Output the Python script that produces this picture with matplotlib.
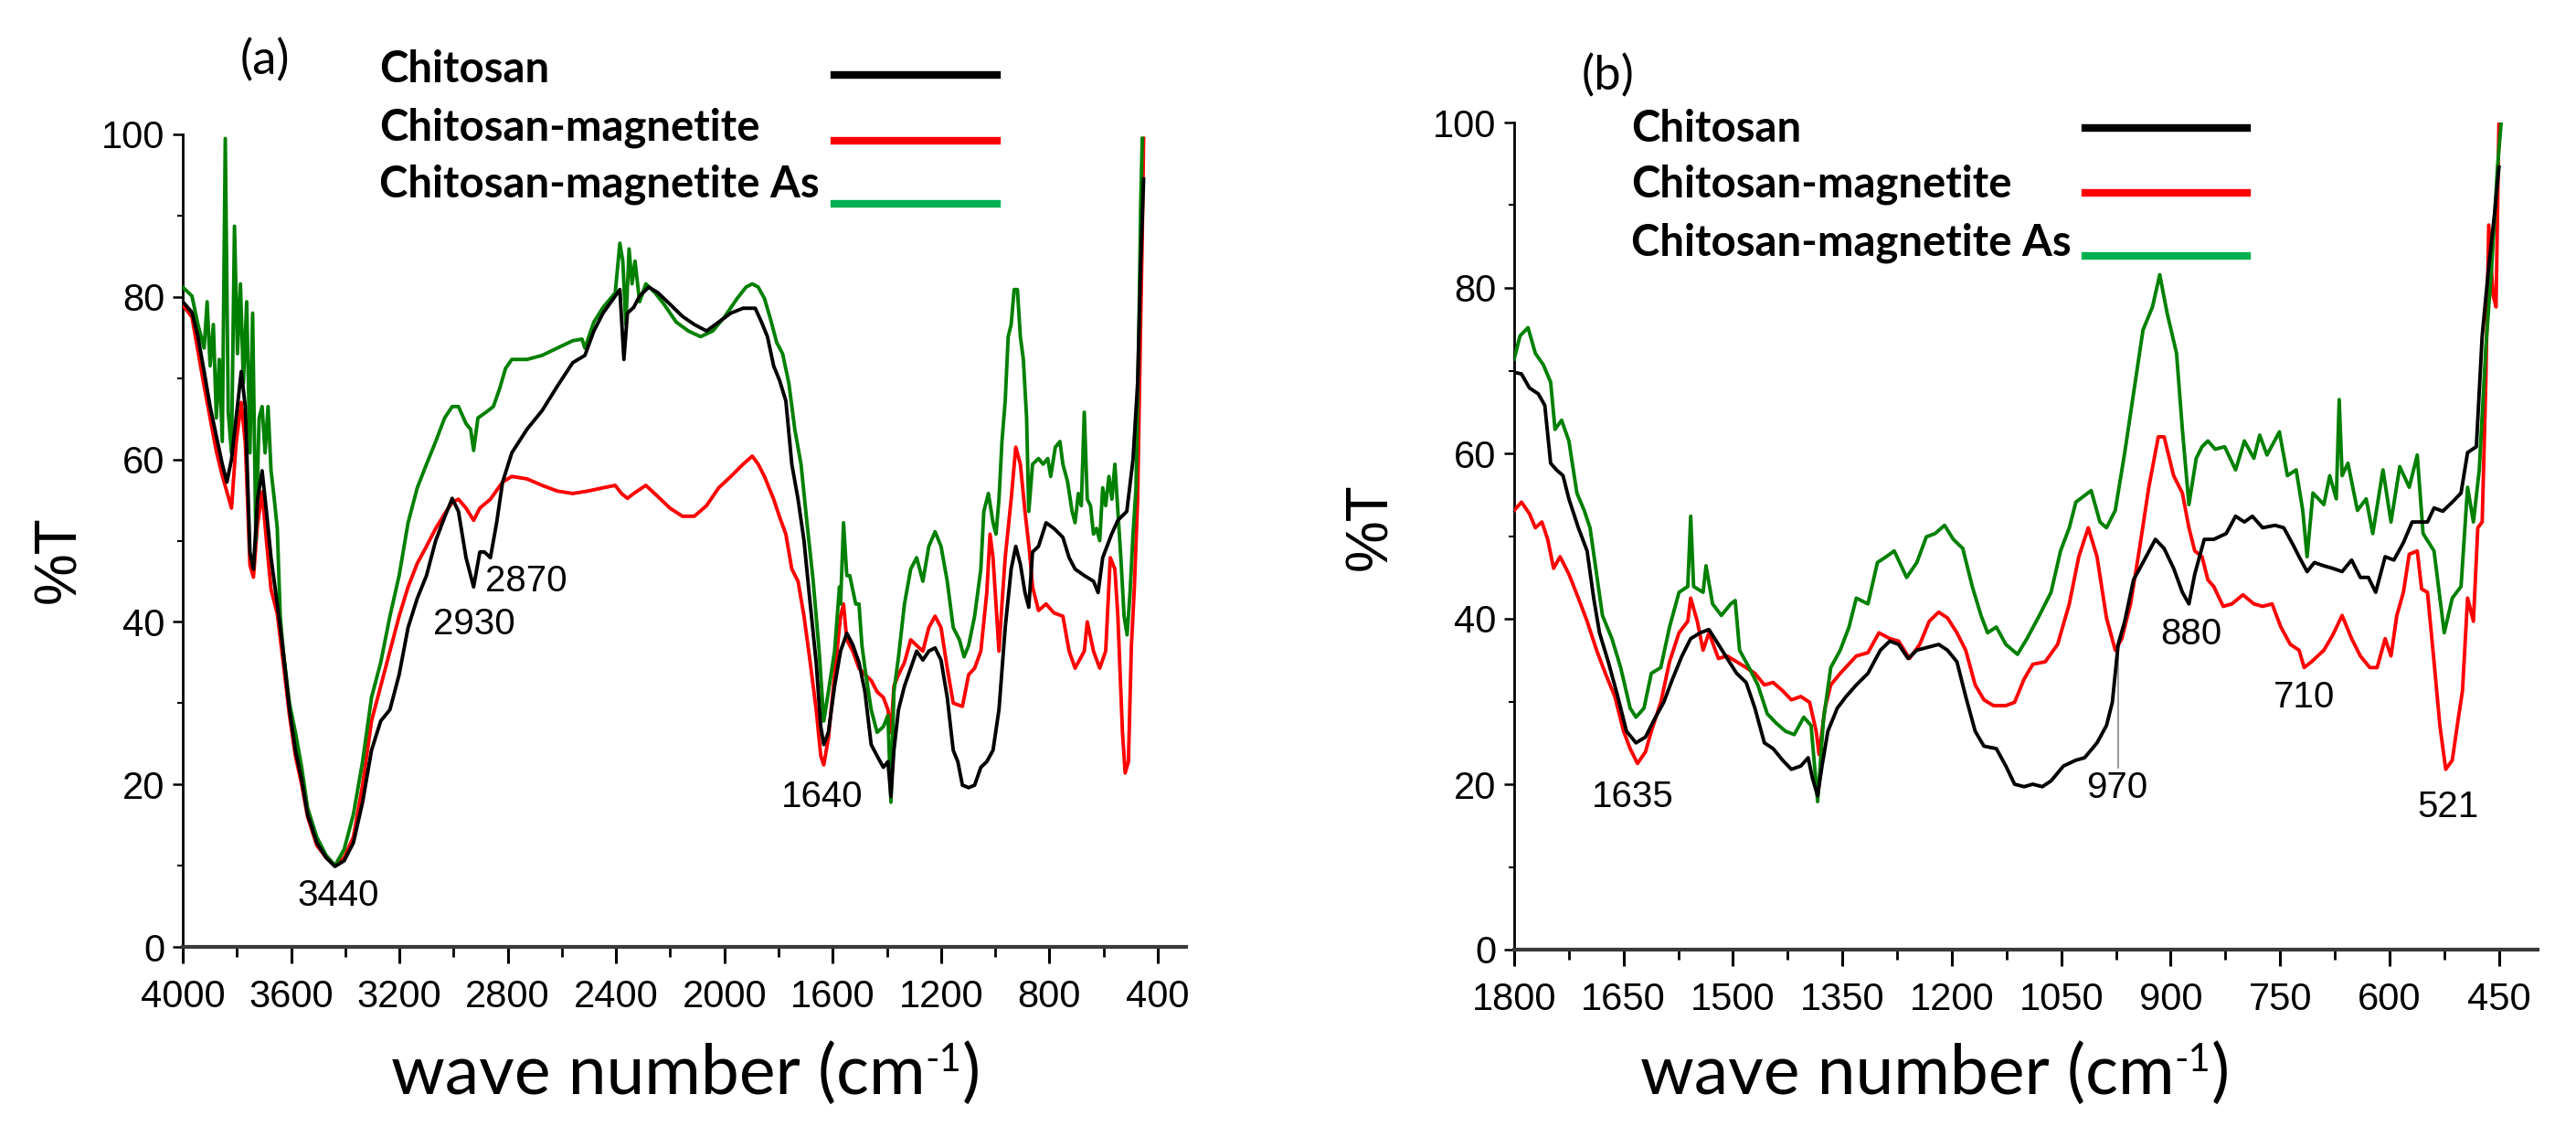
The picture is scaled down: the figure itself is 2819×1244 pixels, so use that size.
import numpy as np
import matplotlib
matplotlib.use("Agg")
import matplotlib.pyplot as plt
from matplotlib.ticker import MultipleLocator

plt.rcParams['font.family'] = ['Liberation Sans', 'DejaVu Sans']

W, H = 2819, 1244

# ---- panel (a) data ----
a_black_wn = [4000, 3966, 3944, 3921, 3899, 3876, 3854, 3837, 3820, 3803, 3784, 3769, 3752, 3739,
              3724, 3707, 3691, 3674, 3651, 3629, 3606, 3584, 3561, 3539, 3505, 3471, 3438, 3404,
              3370, 3336, 3303, 3269, 3235, 3201, 3168, 3134, 3100, 3066, 3033, 3005, 2982, 2954,
              2926, 2903, 2886, 2864, 2841, 2819, 2785, 2729, 2673, 2617, 2560, 2515, 2482, 2448,
              2403, 2386, 2371, 2358, 2335, 2313, 2279, 2245, 2201, 2155, 2111, 2066, 2021, 1976,
              1931, 1886, 1863, 1841, 1818, 1796, 1773, 1751, 1728, 1706, 1683, 1661, 1644, 1633,
              1616, 1593, 1571, 1548, 1526, 1503, 1481, 1458, 1436, 1413, 1396, 1385, 1374, 1357,
              1335, 1312, 1290, 1267, 1245, 1222, 1200, 1177, 1155, 1138, 1121, 1098, 1076, 1053,
              1031, 1008, 986, 963, 941, 924, 907, 890, 876, 862, 840, 812, 783, 750, 727, 705,
              671, 637, 620, 603, 570, 547, 514, 491, 474, 463, 452]
a_black_t = [79.4, 78.1, 75.1, 70.8, 66.5, 62.9, 59.4, 57.2, 60.0, 65.1, 70.8, 66.5, 48.6, 46.5,
             55.0, 58.6, 53.6, 47.9, 42.2, 36.4, 29.2, 24.2, 20.6, 16.3, 12.8, 11.0, 9.9, 10.6,
             12.8, 17.8, 24.2, 27.8, 29.2, 33.5, 39.3, 42.9, 45.7, 50.0, 52.9, 55.2, 53.6, 47.9,
             44.3, 48.6, 48.6, 47.9, 52.2, 57.2, 60.8, 63.7, 66.0, 69.0, 71.9, 72.8, 75.8, 78.0,
             80.1, 80.9, 72.3, 78.0, 78.7, 80.1, 81.2, 80.5, 79.1, 77.6, 76.6, 75.8, 76.9, 78.0,
             78.6, 78.6, 76.9, 75.1, 71.5, 69.7, 67.2, 59.4, 55.1, 50.0, 42.2, 35.0, 27.1, 24.9,
             26.4, 32.1, 36.4, 38.6, 37.2, 35.0, 31.4, 24.9, 23.5, 22.1, 22.8, 18.5, 24.2, 29.2,
             32.1, 34.3, 36.4, 35.3, 36.4, 36.8, 35.3, 30.7, 24.2, 22.8, 19.9, 19.6, 19.9, 22.1,
             22.8, 24.2, 29.2, 39.3, 46.5, 49.3, 47.1, 43.6, 41.8, 48.6, 49.3, 52.2, 51.5, 50.4,
             47.9, 46.5, 45.7, 45.0, 43.6, 47.9, 50.8, 52.5, 53.6, 60.0, 69.4, 83.7, 94.5]

a_red_wn = [4000, 3966, 3921, 3876, 3854, 3837, 3820, 3803, 3784, 3769, 3752, 3739, 3724, 3707,
            3691, 3674, 3651, 3629, 3606, 3584, 3561, 3539, 3505, 3471, 3438, 3404, 3370, 3336,
            3303, 3269, 3235, 3201, 3168, 3134, 3100, 3066, 3033, 3005, 2982, 2954, 2926, 2903,
            2864, 2819, 2785, 2729, 2673, 2617, 2560, 2504, 2448, 2403, 2380, 2358, 2335, 2290,
            2245, 2201, 2155, 2111, 2066, 2021, 1976, 1931, 1897, 1875, 1852, 1818, 1796, 1773,
            1751, 1728, 1706, 1683, 1661, 1644, 1633, 1616, 1593, 1571, 1560, 1548, 1526, 1503,
            1481, 1458, 1436, 1413, 1396, 1385, 1374, 1357, 1335, 1312, 1290, 1267, 1245, 1222,
            1200, 1177, 1155, 1121, 1098, 1076, 1053, 1031, 1019, 1008, 986, 975, 963, 941, 924,
            907, 890, 873, 862, 840, 812, 783, 750, 727, 705, 671, 660, 637, 614, 592, 575, 558,
            547, 530, 520, 508, 497, 486, 474, 463, 457, 452]
a_red_t = [79.0, 77.5, 69.0, 61.0, 58.0, 56.0, 54.0, 62.0, 67.0, 62.0, 47.0, 45.5, 52.0, 56.0,
           50.0, 44.0, 41.0, 35.0, 28.5, 23.5, 20.0, 16.0, 12.5, 11.0, 10.0, 11.0, 13.5, 19.9,
           27.8, 32.1, 36.4, 40.7, 44.3, 47.2, 49.3, 51.5, 53.3, 54.7, 55.1, 54.0, 52.5, 54.0,
           55.1, 57.2, 57.9, 57.6, 56.8, 56.1, 55.8, 56.1, 56.5, 56.8, 55.8, 55.2, 55.8, 56.8,
           55.4, 54.0, 53.0, 53.0, 54.3, 56.5, 57.9, 59.4, 60.4, 59.4, 57.9, 55.1, 52.9, 50.8,
           46.5, 45.0, 40.7, 35.0, 29.2, 23.5, 22.4, 25.7, 33.5, 40.7, 42.2, 37.8, 36.4, 34.3,
           33.5, 32.8, 31.4, 30.7, 29.2, 26.4, 32.1, 33.5, 35.0, 37.8, 37.1, 36.4, 39.3, 40.7,
           39.3, 34.3, 30.0, 29.6, 33.5, 34.3, 36.4, 43.6, 50.8, 47.9, 36.4, 42.2, 47.9, 55.1, 61.5,
           59.4, 53.6, 48.6, 44.3, 41.4, 42.2, 41.1, 40.7, 36.4, 34.3, 36.4, 40.0, 36.4, 34.3, 36.4,
           47.9, 46.5, 40.7, 26.4, 21.4, 22.8, 37.1, 44.3, 55.1, 76.6, 87.3, 99.5]

a_green_wn = [4000, 3966, 3944, 3921, 3910, 3899, 3887, 3876, 3865, 3854, 3843, 3832, 3820, 3809,
              3798, 3787, 3776, 3764, 3752, 3742, 3730, 3718, 3707, 3696, 3685, 3674, 3662, 3651,
              3640, 3629, 3606, 3584, 3561, 3539, 3505, 3471, 3438, 3404, 3370, 3336, 3303, 3269,
              3235, 3201, 3168, 3134, 3100, 3066, 3033, 3005, 2982, 2954, 2937, 2926, 2910, 2880,
              2853, 2830, 2808, 2785, 2729, 2673, 2617, 2560, 2526, 2515, 2482, 2448, 2403, 2386,
              2375, 2364, 2352, 2341, 2330, 2313, 2290, 2256, 2223, 2178, 2133, 2088, 2043, 1998,
              1953, 1920, 1897, 1875, 1852, 1830, 1807, 1785, 1762, 1740, 1717, 1695, 1672, 1650,
              1633, 1616, 1593, 1575, 1571, 1560, 1548, 1537, 1515, 1503, 1492, 1481, 1458, 1436,
              1413, 1396, 1385, 1374, 1357, 1335, 1312, 1290, 1267, 1245, 1222, 1200, 1177, 1155,
              1132, 1115, 1098, 1076, 1053, 1042, 1025, 1008, 997, 986, 975, 963, 952, 941, 930,
              918, 907, 896, 884, 876, 862, 840, 823, 806, 795, 778, 761, 750, 733, 716, 705, 693,
              682, 671, 660, 648, 637, 626, 614, 603, 592, 580, 569, 558, 547, 536, 524, 513, 502,
              491, 480, 469, 463, 457]
a_green_t = [81.2, 80.1, 76.6, 73.7, 79.4, 71.5, 76.6, 65.1, 72.3, 62.2, 99.5, 65.8, 60.8, 88.7,
             73.0, 81.6, 69.4, 79.4, 60.8, 78.0, 50.0, 65.1, 66.5, 60.8, 66.5, 58.6, 55.1, 51.5,
             40.7, 36.4, 30.0, 26.4, 22.1, 17.1, 13.5, 11.3, 10.0, 12.0, 16.3, 22.8, 30.7, 35.0,
             40.7, 45.7, 52.2, 56.5, 59.4, 62.2, 65.1, 66.5, 66.5, 64.4, 63.7, 61.1, 65.1, 65.8,
             66.5, 68.7, 71.2, 72.3, 72.3, 72.8, 73.7, 74.6, 74.8, 73.7, 76.9, 78.7, 80.5, 86.6,
             84.4, 76.6, 85.9, 81.6, 84.4, 79.4, 81.6, 80.5, 79.1, 76.9, 75.8, 75.1, 75.8, 77.6,
             79.8, 81.2, 81.6, 81.2, 79.8, 77.3, 74.4, 73.0, 69.4, 63.7, 59.4, 52.2, 45.0, 36.4,
             27.8, 31.4, 36.4, 44.3, 42.2, 52.2, 45.7, 45.7, 42.2, 42.2, 37.1, 34.3, 29.2, 26.4,
             27.1, 28.5, 17.8, 31.4, 35.7, 42.2, 46.5, 47.9, 45.0, 49.3, 51.1, 49.3, 45.0, 39.3,
             37.8, 35.7, 37.1, 40.7, 46.5, 53.6, 55.8, 52.2, 50.8, 55.1, 62.2, 67.2, 75.1, 76.6,
             80.9, 80.9, 75.1, 72.3, 65.1, 53.6, 59.4, 60.1, 59.4, 60.1, 57.9, 61.5, 62.2, 59.4,
             57.3, 53.6, 52.2, 55.8, 54.3, 65.8, 55.1, 54.3, 50.8, 51.5, 50.0, 56.5, 54.3, 57.9,
             55.1, 59.4, 53.6, 47.9, 40.7, 38.4, 43.6, 50.8, 56.5, 76.6, 90.9, 99.5]

# ---- panel (b) data ----
b_black_wn = [1800, 1790, 1779, 1767, 1758, 1750, 1742, 1733, 1725, 1712, 1700, 1691, 1683, 1671,
              1658, 1646, 1633, 1620, 1608, 1595, 1583, 1570, 1558, 1545, 1533, 1520, 1508, 1495,
              1482, 1470, 1457, 1445, 1432, 1420, 1407, 1397, 1391, 1384, 1378, 1370, 1357, 1345,
              1331, 1315, 1298, 1285, 1273, 1260, 1248, 1231, 1218, 1206, 1193, 1181, 1168, 1156,
              1139, 1126, 1114, 1101, 1089, 1076, 1064, 1047, 1030, 1018, 1001, 988, 980, 972, 963,
              951, 938, 921, 909, 896, 884, 875, 867, 854, 841, 824, 811, 799, 788, 774, 757, 745,
              732, 724, 713, 703, 690, 678, 665, 652, 640, 629, 619, 606, 594, 581, 569, 560, 548,
              539, 527, 514, 502, 493, 481, 473, 464, 456, 450]
b_black_t = [69.8, 69.6, 67.9, 67.2, 65.8, 58.8, 58.0, 57.3, 54.5, 51.0, 48.2, 42.5, 38.3, 34.8,
             30.6, 26.4, 25.0, 25.7, 27.8, 29.9, 32.7, 35.5, 37.6, 38.3, 38.7, 36.9, 35.2, 33.4,
             32.3, 29.2, 25.0, 24.3, 22.9, 21.8, 22.2, 23.2, 20.7, 18.6, 22.2, 26.4, 29.2, 30.6,
             32.0, 33.4, 36.2, 37.3, 36.9, 35.2, 36.2, 36.6, 36.9, 36.2, 34.8, 30.6, 26.4, 24.6,
             24.3, 22.2, 20.0, 19.7, 20.0, 19.7, 20.4, 22.2, 22.9, 23.2, 25.0, 27.1, 29.9, 36.9,
             39.7, 44.7, 46.8, 49.6, 48.5, 46.1, 43.2, 41.8, 45.4, 49.6, 49.6, 50.3, 52.4, 51.7,
             52.4, 51.0, 51.3, 51.0, 48.9, 47.5, 45.7, 46.8, 46.4, 46.1, 45.7, 47.1, 45.0, 45.0,
             43.2, 47.5, 47.1, 49.2, 51.7, 51.7, 51.7, 53.4, 53.0, 54.1, 55.2, 60.1, 60.8, 74.2,
             82.6, 89.0, 94.6]

b_red_wn = [1800, 1790, 1779, 1771, 1762, 1754, 1746, 1737, 1725, 1712, 1700, 1687, 1675, 1662,
            1650, 1641, 1631, 1620, 1612, 1599, 1587, 1574, 1562, 1558, 1549, 1541, 1533, 1520,
            1508, 1495, 1482, 1470, 1457, 1445, 1432, 1420, 1407, 1395, 1386, 1382, 1374, 1366,
            1353, 1331, 1315, 1300, 1285, 1273, 1258, 1244, 1231, 1218, 1206, 1193, 1181, 1168,
            1156, 1143, 1126, 1114, 1101, 1089, 1072, 1055, 1039, 1026, 1013, 1001, 988, 976, 967,
            955, 942, 930, 917, 909, 896, 884, 875, 867, 857, 849, 841, 828, 816, 801, 786, 774,
            761, 749, 736, 724, 717, 707, 690, 678, 665, 652, 640, 627, 617, 606, 598, 590, 581,
            573, 562, 556, 548, 539, 531, 523, 514, 506, 500, 493, 485, 479, 473, 468, 464, 458,
            454, 450]
b_red_t = [53.1, 54.1, 52.7, 51.0, 51.7, 49.6, 46.1, 47.5, 45.4, 42.5, 39.7, 36.2, 33.4, 30.6,
           26.4, 24.3, 22.5, 23.9, 26.4, 29.9, 34.8, 38.3, 39.7, 42.5, 39.7, 36.2, 38.3, 35.2,
           35.5, 34.8, 34.1, 33.4, 32.0, 32.3, 31.3, 30.2, 30.6, 29.9, 26.4, 23.6, 29.2, 32.0,
           33.4, 35.5, 35.9, 38.3, 37.6, 37.3, 35.2, 36.9, 39.7, 40.8, 40.1, 38.3, 36.2, 32.0,
           30.2, 29.5, 29.5, 29.9, 32.7, 34.5, 34.8, 36.9, 41.8, 47.5, 51.0, 47.5, 40.1, 36.2,
           37.6, 41.8, 48.9, 55.9, 62.0, 62.0, 57.3, 55.2, 51.0, 48.2, 47.5, 44.7, 43.9, 41.5,
           41.8, 42.9, 41.8, 41.5, 41.8, 39.0, 36.9, 36.2, 34.1, 34.8, 36.2, 38.0, 40.4, 37.6,
           35.5, 34.1, 34.1, 37.6, 35.5, 40.4, 43.2, 47.8, 48.2, 43.6, 43.2, 34.8, 27.1, 21.8,
           22.9, 27.8, 31.3, 42.5, 39.7, 51.0, 51.7, 68.6, 87.6, 79.1, 77.7, 100.0]

b_green_wn = [1800, 1792, 1781, 1771, 1760, 1750, 1744, 1735, 1725, 1714, 1704, 1696, 1687, 1679,
              1666, 1654, 1641, 1633, 1622, 1612, 1599, 1587, 1574, 1562, 1558, 1554, 1541, 1537,
              1528, 1516, 1503, 1497, 1491, 1478, 1466, 1453, 1441, 1428, 1416, 1403, 1393, 1384,
              1376, 1366, 1353, 1341, 1331, 1315, 1302, 1290, 1279, 1262, 1248, 1235, 1223, 1210,
              1198, 1185, 1172, 1160, 1151, 1139, 1126, 1110, 1097, 1080, 1064, 1051, 1039, 1030,
              1009, 997, 988, 976, 963, 951, 938, 925, 915, 905, 892, 884, 875, 865, 857, 849, 839,
              826, 811, 799, 786, 778, 768, 751, 740, 728, 719, 713, 705, 690, 682, 673, 669, 665,
              657, 644, 632, 623, 609, 598, 586, 573, 562, 554, 539, 525, 514, 502, 493, 485, 477,
              468, 460, 452, 447]
b_green_t = [71.4, 74.2, 75.2, 72.1, 70.7, 68.6, 62.9, 64.0, 61.5, 55.2, 53.1, 51.0, 45.4, 40.4,
             37.6, 34.1, 29.2, 28.1, 29.2, 33.4, 34.1, 39.0, 43.2, 43.9, 52.4, 43.9, 43.2, 46.4,
             41.8, 40.4, 41.8, 42.2, 36.2, 34.1, 32.0, 28.5, 27.4, 26.4, 26.0, 28.1, 27.1, 17.9,
             27.8, 34.1, 36.2, 39.0, 42.5, 41.8, 46.8, 47.5, 48.2, 45.0, 46.8, 49.9, 50.3, 51.3,
             49.6, 48.5, 43.9, 40.4, 38.3, 39.0, 36.9, 35.7, 37.6, 40.4, 43.2, 48.2, 51.0, 54.1,
             55.5, 51.7, 51.0, 53.1, 60.1, 67.2, 74.9, 77.7, 81.6, 77.0, 72.1, 62.9, 53.8, 59.4,
             60.8, 61.5, 60.5, 60.8, 58.0, 61.5, 59.4, 62.2, 59.8, 62.6, 57.3, 58.0, 53.1, 47.5,
             55.2, 53.8, 57.3, 54.5, 66.5, 57.3, 58.8, 53.1, 54.5, 50.3, 58.0, 51.7, 58.4, 55.9,
             59.8, 50.3, 48.2, 38.3, 42.5, 43.9, 55.9, 51.7, 58.0, 72.8, 82.6, 94.6, 100.0]

series_names = ['Chitosan', 'Chitosan-magnetite', 'Chitosan-magnetite As']
curve_colors = ['black', '#ff0000', '#008000']
legend_colors = ['black', '#ff0000', '#00b050']

a_peaks = ['3440', '2930', '2870', '1640']
a_peak_pos = [(370, 980), (519, 683), (576, 636), (900, 872)]
b_peaks = ['1635', '970', '880', '710', '521']
b_peak_pos = [(1787, 872), (2317, 862), (2398, 694), (2522, 763), (2679, 883)]


def fx(x):
    return x / W


def fy(y):
    return 1 - y / H


fig = plt.figure(figsize=(W / 100, H / 100), dpi=100)
ax_a = fig.add_axes([200 / W, (H - 1036) / H, 1098 / W, 889 / H])
ax_b = fig.add_axes([1657 / W, (H - 1039) / H, 1120 / W, 905 / H])

curves_a = [(a_black_wn, a_black_t), (a_red_wn, a_red_t), (a_green_wn, a_green_t)]
curves_b = [(b_black_wn, b_black_t), (b_red_wn, b_red_t), (b_green_wn, b_green_t)]

for ax, curves in [(ax_a, curves_a), (ax_b, curves_b)]:
    # red, then green, then black on top
    for i in [1, 2, 0]:
        ax.plot(curves[i][0], curves[i][1], color=curve_colors[i], lw=2.8, zorder=3 + (i == 0))
    ax.set_ylim(0, 100)
    ax.spines['top'].set_visible(False)
    ax.spines['right'].set_visible(False)
    ax.spines['left'].set_linewidth(2.0)
    ax.spines['bottom'].set_linewidth(3.0)
    ax.spines['bottom'].set_color('#3a3a3a')
    ax.yaxis.set_major_locator(MultipleLocator(20))
    ax.yaxis.set_minor_locator(MultipleLocator(10))
    ax.tick_params(axis='x', which='major', length=13, width=2.2, labelsize=30, pad=12)
    ax.tick_params(axis='x', which='minor', length=8, width=2.0)
    ax.tick_params(axis='y', which='major', length=8, width=1.8, labelsize=30, pad=6)
    ax.tick_params(axis='y', which='minor', length=4, width=1.5)

ax_a.set_xlim(4000, 295)
ax_a.set_xticks(np.arange(4000, 399, -400))
ax_a.xaxis.set_minor_locator(MultipleLocator(200))
ax_b.set_xlim(1800, 397)
ax_b.set_xticks(np.arange(1800, 449, -150))
ax_b.xaxis.set_minor_locator(MultipleLocator(75))

# 970 marker line
ax_b.plot([972, 972], [22, 35.8], color='#888888', lw=1.2, zorder=2)

# peak labels
for txt, (x, y) in zip(a_peaks + b_peaks, a_peak_pos + b_peak_pos):
    fig.text(fx(x), fy(y), txt, fontsize=29, ha='center', va='center')

# legends drawn as text + line samples
leg_a = dict(tx=415, base=[90, 153, 216], lx=(913, 1091), ly=[82, 154, 223])
leg_b = dict(tx=1785, base=[155, 216, 280], lx=(2282, 2459), ly=[140, 211, 280])
for leg in [leg_a, leg_b]:
    for name, col, b, ly in zip(series_names, legend_colors, leg['base'], leg['ly']):
        fig.text(fx(leg['tx']), fy(b), name, fontsize=34, fontweight='bold',
                 family=['Lato', 'DejaVu Sans'], ha='left', va='baseline')
        fig.add_artist(plt.Line2D([fx(leg['lx'][0]), fx(leg['lx'][1])], [fy(ly), fy(ly)],
                                  color=col, lw=6, transform=fig.transFigure))

# panel tags
fig.text(fx(290), fy(66), '(a)', fontsize=38, family=['Lato', 'DejaVu Sans'], ha='center', va='center')
fig.text(fx(1760), fy(83), '(b)', fontsize=38, family=['Lato', 'DejaVu Sans'], ha='center', va='center')

# axis titles: "wave number (cm" + raised "-1" + ")"
renderer = fig.canvas.get_renderer()
for cx in [750, 2117]:
    parts = [('wave number (cm', 54, 1197), ('-1', 30, 1172), (')', 54, 1197)]
    texts = []
    for s, size, base in parts:
        t = fig.text(0, fy(base), s, fontsize=size, family=['Lato', 'DejaVu Sans'],
                     ha='left', va='baseline')
        texts.append(t)
    widths = [t.get_window_extent(renderer).width for t in texts]
    x = cx - sum(widths) / 2
    for t, w in zip(texts, widths):
        t.set_x(fx(x))
        x += w

fig.text(fx(65), fy(612), '%T', fontsize=46, rotation=90, ha='center', va='center')
fig.text(fx(1500), fy(576), '%T', fontsize=46, rotation=90, ha='center', va='center')

fig.savefig('out.png', dpi=100, facecolor='white')
